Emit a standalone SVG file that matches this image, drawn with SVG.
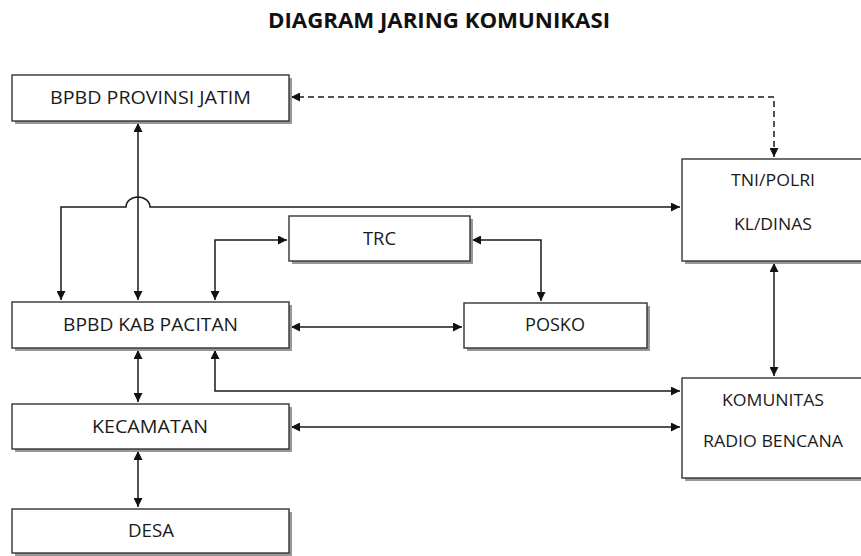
<svg xmlns="http://www.w3.org/2000/svg" width="861" height="556" viewBox="0 0 861 556">
<defs>
<marker id="ah" viewBox="0 0 10 10" refX="10" refY="5" markerWidth="9" markerHeight="9" markerUnits="userSpaceOnUse" orient="auto-start-reverse">
<path d="M0,0 L10,5 L0,10 z" fill="#111"/>
</marker>
</defs>
<style>
.box{fill:#fff;stroke:#333;stroke-width:1.4}
.sh{fill:#999}
.t{font-family:"Open Sans","Liberation Sans",sans-serif;font-size:18.5px;fill:#1a1a1a;text-anchor:middle}
.ts{font-family:"Open Sans","Liberation Sans",sans-serif;font-size:16.5px;fill:#1a1a1a;text-anchor:middle}
.title{font-family:"Open Sans","Liberation Sans",sans-serif;font-size:21.5px;font-weight:bold;fill:#111;text-anchor:middle}
.c{fill:none;stroke:#1a1a1a;stroke-width:1.5;marker-start:url(#ah);marker-end:url(#ah)}
.d{stroke-dasharray:6,4}
</style>
<rect width="861" height="556" fill="#fff"/>
<text class="title" x="439" y="28" textLength="342" lengthAdjust="spacingAndGlyphs">DIAGRAM JARING KOMUNIKASI</text>

<g id="connectors">
<path class="c d" d="M774 157 L774 97 L291 97"/>
<path class="c" d="M138 123 L138 300"/>
<path class="c" d="M61 300 L61 207 L126 207 A12 10 0 0 1 150 207 L680 207"/>
<path class="c" d="M215 300 L215 240 L287 240"/>
<path class="c" d="M472 240 L541 240 L541 301"/>
<path class="c" d="M291 327 L462 327"/>
<path class="c" d="M215 350 L215 391 L680 391"/>
<path class="c" d="M291 427 L680 427"/>
<path class="c" d="M774 263 L774 376"/>
<path class="c" d="M138 350 L138 402"/>
<path class="c" d="M138 451 L138 507"/>
</g>

<g id="prov">
<rect class="sh" x="15" y="78" width="277" height="46"/>
<rect class="box" x="12" y="75" width="277" height="46"/>
<text class="t" x="150.5" y="104" textLength="201" lengthAdjust="spacingAndGlyphs">BPBD PROVINSI JATIM</text>
</g>
<g id="kab">
<rect class="sh" x="15" y="305" width="277" height="46"/>
<rect class="box" x="12" y="302" width="277" height="46"/>
<text class="t" x="150.5" y="331" textLength="175" lengthAdjust="spacingAndGlyphs">BPBD KAB PACITAN</text>
</g>
<g id="kec">
<rect class="sh" x="15" y="407" width="277" height="45"/>
<rect class="box" x="12" y="404" width="277" height="45"/>
<text class="t" x="150" y="433" textLength="116" lengthAdjust="spacingAndGlyphs">KECAMATAN</text>
</g>
<g id="desa">
<rect class="sh" x="15" y="512" width="277" height="44"/>
<rect class="box" x="12" y="509" width="277" height="44"/>
<text class="t" x="151" y="537" textLength="46" lengthAdjust="spacingAndGlyphs">DESA</text>
</g>
<g id="trc">
<rect class="sh" x="292" y="219" width="181" height="45"/>
<rect class="box" x="289" y="216" width="181" height="45"/>
<text class="t" x="379.5" y="245" textLength="33" lengthAdjust="spacingAndGlyphs">TRC</text>
</g>
<g id="posko">
<rect class="sh" x="467" y="306" width="183" height="45"/>
<rect class="box" x="464" y="303" width="183" height="45"/>
<text class="t" x="555" y="331" textLength="60" lengthAdjust="spacingAndGlyphs">POSKO</text>
</g>
<g id="tni">
<rect class="sh" x="685" y="162" width="185" height="102"/>
<rect class="box" x="682" y="159" width="185" height="102"/>
<text class="ts" x="773" y="186" textLength="84" lengthAdjust="spacingAndGlyphs">TNI/POLRI</text>
<text class="ts" x="773" y="230" textLength="78" lengthAdjust="spacingAndGlyphs">KL/DINAS</text>
</g>
<g id="komunitas">
<rect class="sh" x="685" y="381" width="185" height="100"/>
<rect class="box" x="682" y="378" width="185" height="100"/>
<text class="ts" x="773" y="406" textLength="102" lengthAdjust="spacingAndGlyphs">KOMUNITAS</text>
<text class="ts" x="773" y="447" textLength="140" lengthAdjust="spacingAndGlyphs">RADIO BENCANA</text>
</g>
</svg>
